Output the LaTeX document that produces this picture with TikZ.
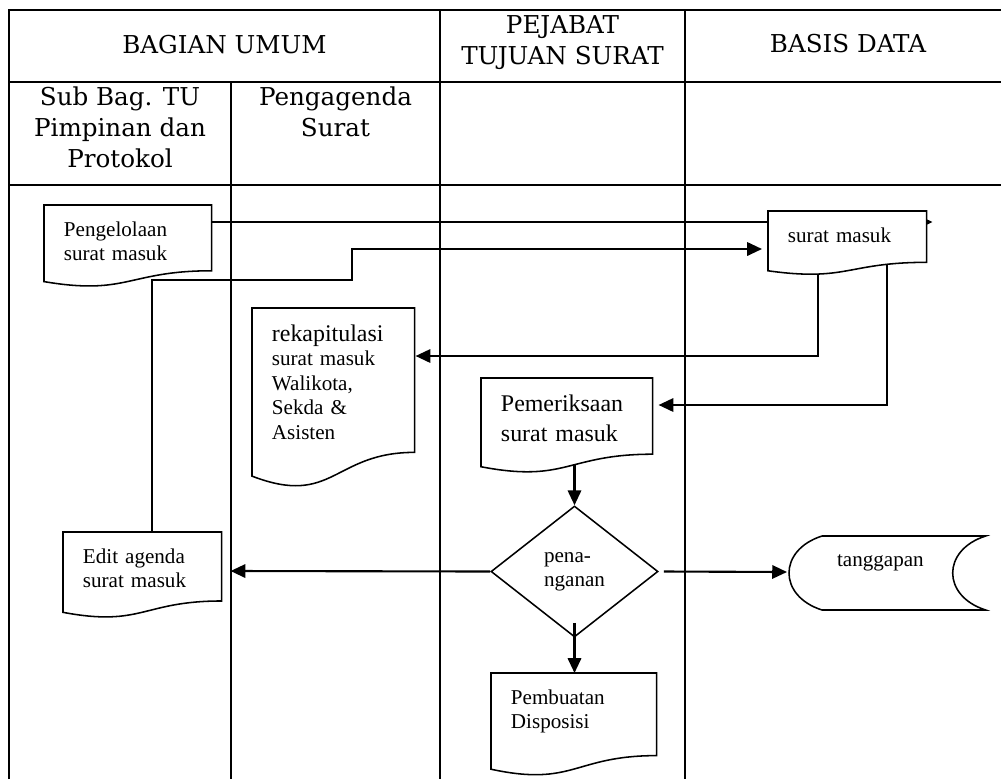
\documentclass[tikz,border=0pt]{standalone}
\usepackage{fontspec}
\setmainfont{Liberation Serif}
\newfontfamily\lanefont{DejaVu Serif}
\usepackage{tikz}
\usetikzlibrary{arrows.meta,calc,positioning,shapes.geometric}
\pgfdeclarelayer{lines}
\pgfdeclarelayer{frames}
\pgfsetlayers{lines,frames,main}
\tikzset{%
	lane/.style     = {line width=1.4pt},
	lanehead/.style = {font=\lanefont\fontsize{17.5}{22}\selectfont, inner sep=0pt, align=center},
	docnode/.style  = {rectangle, anchor=north west, inner xsep=14pt, inner ysep=11.5pt, align=left, font=\fontsize{15}{17.5}\selectfont},
	docw/.style     = {text width=#1*0.025cm-28pt},
	docline/.style  = {line width=1.1pt, fill=white},
	decision/.style = {draw, diamond, line width=1.1pt, minimum width=4.175cm, minimum height=3.275cm, inner sep=0pt, align=left, font=\fontsize{15}{17}\selectfont},
	arrow/.style    = {line width=1.5pt, -{Triangle[length=10.5pt,width=9.5pt]}},
}
% document symbol with a wavy foot, #2 = height
\newcommand{\docframe}[2]{%
	\draw[docline] (#1.north west) -- (#1.north east) -- ($(#1.north east)+(0,0.802*#2)$)
		.. controls ($(#1.north)+(0,0.802*#2)$) and ($(#1.north)+(0,1.1075*#2)$) .. ($(#1.north west)+(0,0.934*#2)$) -- cycle;}

\begin{document}
\begin{tikzpicture}[x=0.025cm,y=-0.025cm]
	\useasboundingbox (0,0) rectangle (1001,779);
	
	\node[lanehead] (bagian) at (224.5,44.5) {BAGIAN UMUM};
	\node[lanehead] (pejabat) at (562.5,43) {PEJABAT\\TUJUAN SURAT};
	\node[lanehead] (basis) at (848,44) {BASIS DATA};
	\node[lanehead, anchor=north] (subbag) at (120,87) {Sub Bag. TU\\Pimpinan dan\\Protokol};
	\node[lanehead, anchor=north] (agenda) at (335.5,87) {Pengagenda\\Surat};
	
	\node[docnode, docw=167] (kelola) at (44,205) {Pengelolaan\\surat masuk};
	\node[docnode, docw=158] (suratmasuk) at (768,211) {surat masuk};
	\node[docnode, docw=162] (rekap) at (252,308) {{\fontsize{17}{17.5}\selectfont rekapitulasi}\\surat masuk\\Walikota,\\Sekda \&\\Asisten};
	\node[docnode, docw=171, font=\fontsize{17}{21.3}\selectfont] (periksa) at (481,378) {Pemeriksaan\\surat masuk};
	\node[decision] (tangani) at (574.5,571.5) {pena-\\nganan};
	\node[docnode, docw=158] (editagenda) at (63,532) {Edit agenda\\surat masuk};
	\node[docnode, docw=165] (disposisi) at (491,673) {Pembuatan\\Disposisi};
	\node[docnode, inner xsep=10.5pt, inner ysep=13pt, text width=95pt] (tanggapan) at (822,536) {tanggapan};
	\coordinate (stepA) at (352,280);
	
	\begin{pgfonlayer}{frames}
		\docframe{kelola}{82}
		\docframe{suratmasuk}{64}
		\docframe{rekap}{180}
		\docframe{periksa}{95}
		\docframe{editagenda}{86}
		\docframe{disposisi}{103}
		\draw[docline] (tanggapan.north west) -- (tanggapan.north east)
			.. controls +(-44,14) and +(-44,-14) .. ($(tanggapan.north east)+(0,74)$)
			-- ($(tanggapan.north west)+(0,74)$)
			.. controls +(-44,-14) and +(-44,14) .. (tanggapan.north west);
	\end{pgfonlayer}
	
	\begin{pgfonlayer}{lines}
		\draw[lane] (9,779) -- (9,10) -- (1001,10);
		\draw[lane] (9,82) -- (1001,82);
		\draw[lane] (9,185) -- (1001,185);
		\draw[lane] (231,82) -- (231,779);
		\draw[lane] (440,10) -- (440,779);
		\draw[lane] (685,10) -- (685,779);
		
		\draw[arrow] ($(kelola.north east)+(0,17)$) -- ($(suratmasuk.north east)+(6,11)$);
		\draw[arrow] ($(editagenda.north)+(10,0)$) |- (stepA) |- ($(suratmasuk.north west)+(-6,38)$);
		\draw[arrow] ($(suratmasuk.north west)+(50,40)$) |- ($(rekap.north east)+(1,48)$);
		\draw[arrow] ($(suratmasuk.north west)+(119,40)$) |- ($(periksa.north east)+(6,27)$);
		\draw[arrow] (periksa.south -| tangani.north) -- (tangani.north);
		\draw[arrow] ($(tangani.south)+(0,-15)$) -- (tangani.south |- disposisi.north);
		\draw[arrow] (tangani.west) -- ($(editagenda.north east)+(9,39)$);
		\draw[arrow] ($(tangani.east)+(5,0)$) -- ($(tanggapan.north west)+(-35,36)$);
	\end{pgfonlayer}
	
\end{tikzpicture}
\end{document}
